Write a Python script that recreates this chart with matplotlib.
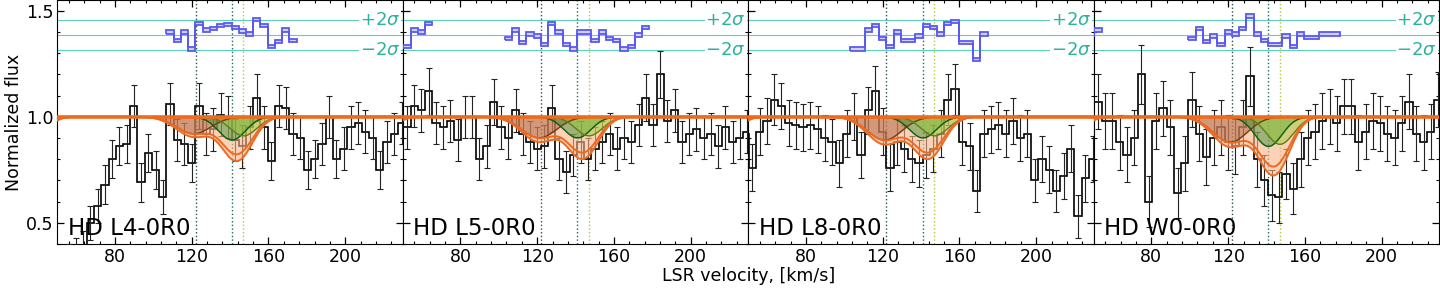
import numpy as np
import matplotlib.pyplot as plt
import matplotlib.transforms as mtransforms

# velocity grid of the binned spectra (bin centres, km/s)
vel = np.arange(48.4, 230.5, 3.77)
edges = np.append(vel - 3.77 / 2, vel[-1] + 3.77 / 2)

panel_names = ['HD L4-0R0', 'HD L5-0R0', 'HD L8-0R0', 'HD W0-0R0']

flux_l4 = [0.30, 0.30, 0.32, 0.35, 0.38, 0.50, 0.58, 0.68, 0.80, 0.86, 0.87, 1.05, 0.69, 0.83, 0.75,
           0.62, 1.06, 0.89, 0.87, 0.78, 1.05, 0.92, 0.94, 1.01, 1.00, 0.89, 0.86, 0.95, 1.09, 0.95,
           0.79, 1.05, 1.04, 0.92, 0.90, 0.75, 0.80, 0.87, 1.00, 0.80, 0.85, 0.95, 0.97, 0.93, 0.90,
           0.75, 0.88, 0.92, 0.97]
err_l4 = [0.08, 0.08, 0.08, 0.08, 0.08, 0.08, 0.08, 0.09, 0.09, 0.09, 0.09, 0.10, 0.09, 0.09, 0.09,
          0.08, 0.10, 0.10, 0.10, 0.09, 0.11, 0.10, 0.10, 0.10, 0.10, 0.10, 0.10, 0.10, 0.11, 0.10,
          0.09, 0.10, 0.10, 0.10, 0.10, 0.09, 0.09, 0.10, 0.10, 0.09, 0.10, 0.10, 0.10, 0.10, 0.10,
          0.09, 0.10, 0.10, 0.10]
flux_l5 = [0.85, 0.95, 1.05, 1.03, 1.12, 0.97, 0.95, 0.98, 0.89, 1.00, 1.00, 0.80, 0.86, 1.07, 0.95,
           0.90, 1.03, 0.92, 0.88, 0.85, 0.86, 1.04, 0.80, 0.74, 0.82, 0.88, 0.80, 0.85, 0.88, 0.92,
           0.85, 0.90, 0.88, 0.96, 1.09, 0.96, 1.20, 0.98, 1.03, 0.88, 0.92, 0.94, 0.90, 0.92, 0.86,
           0.95, 0.88, 0.90, 0.93]
err_l5 = [0.10, 0.10, 0.10, 0.10, 0.11, 0.10, 0.10, 0.10, 0.10, 0.10, 0.10, 0.10, 0.10, 0.11, 0.10,
          0.10, 0.10, 0.10, 0.10, 0.10, 0.10, 0.11, 0.10, 0.10, 0.10, 0.10, 0.10, 0.10, 0.10, 0.10,
          0.10, 0.10, 0.10, 0.10, 0.11, 0.10, 0.11, 0.10, 0.10, 0.10, 0.10, 0.10, 0.10, 0.10, 0.10,
          0.10, 0.10, 0.10, 0.10]
flux_l8 = [0.92, 0.76, 0.93, 0.98, 1.08, 1.05, 0.97, 0.96, 0.95, 0.96, 0.94, 0.90, 0.88, 0.78, 0.92,
           1.00, 0.82, 1.03, 1.12, 0.93, 0.76, 0.88, 0.85, 0.80, 0.78, 0.82, 0.85, 0.92, 1.08, 1.13,
           0.88, 0.86, 0.65, 0.92, 0.94, 0.96, 0.92, 0.98, 0.90, 0.92, 0.70, 0.80, 0.75, 0.65, 0.72,
           0.85, 0.53, 0.71, 0.80]
err_l8 = [0.11, 0.11, 0.11, 0.11, 0.12, 0.11, 0.11, 0.11, 0.11, 0.11, 0.11, 0.11, 0.11, 0.11, 0.11,
          0.11, 0.11, 0.11, 0.12, 0.11, 0.11, 0.11, 0.11, 0.11, 0.11, 0.11, 0.11, 0.11, 0.12, 0.12,
          0.11, 0.11, 0.10, 0.11, 0.11, 0.11, 0.11, 0.11, 0.11, 0.11, 0.10, 0.11, 0.11, 0.10, 0.11,
          0.11, 0.10, 0.11, 0.11]
flux_w0 = [0.95, 1.07, 0.98, 0.98, 0.88, 0.82, 0.90, 1.20, 0.60, 0.98, 1.04, 0.95, 0.64, 0.78, 1.08,
           0.92, 0.81, 0.90, 0.95, 0.88, 0.86, 0.95, 1.19, 0.80, 0.70, 0.63, 0.62, 0.73, 0.66, 0.80,
           0.90, 0.93, 0.98, 1.00, 0.97, 1.05, 1.05, 0.88, 0.93, 0.98, 0.97, 0.92, 0.90, 0.97, 1.07,
           0.92, 0.88, 0.93, 1.08]
err_w0 = [0.13, 0.13, 0.13, 0.13, 0.13, 0.13, 0.13, 0.14, 0.12, 0.13, 0.13, 0.13, 0.12, 0.13, 0.13,
          0.13, 0.13, 0.13, 0.13, 0.13, 0.13, 0.13, 0.14, 0.13, 0.12, 0.12, 0.12, 0.12, 0.12, 0.13,
          0.13, 0.13, 0.13, 0.13, 0.13, 0.13, 0.13, 0.13, 0.13, 0.13, 0.13, 0.13, 0.13, 0.13, 0.13,
          0.13, 0.13, 0.13, 0.13]

# residual strips (first bin index, values already in plot units)
resid_l4 = (16, [1.40, 1.36, 1.40, 1.32, 1.44, 1.41, 1.415, 1.43, 1.435, 1.42, 1.405, 1.39, 1.46,
                 1.43, 1.33, 1.355, 1.41, 1.36])
resid_l5 = (15, [1.37, 1.41, 1.35, 1.39, 1.38, 1.34, 1.44, 1.40, 1.34, 1.32, 1.40, 1.40, 1.36, 1.40,
                 1.37, 1.36, 1.32, 1.33, 1.385, 1.42])
resid_l5_left = (1, [1.33, 1.41, 1.40, 1.44])
resid_l8 = (15, [1.32, 1.32, 1.41, 1.43, 1.37, 1.33, 1.40, 1.36, 1.36, 1.38, 1.43, 1.42, 1.39, 1.44,
                 1.45, 1.35, 1.35, 1.27, 1.39])
resid_w0 = (14, [1.37, 1.415, 1.355, 1.38, 1.34, 1.40, 1.39, 1.415, 1.475, 1.39, 1.36, 1.34, 1.34,
                 1.38, 1.33, 1.39, 1.375, 1.375, 1.39, 1.39, 1.39])
resid_w0_left = (0, [1.39, 1.41])

# absorption components: centre, depth, width (km/s)
comp_center = [121, 141, 147]
depth_l4 = [0.08, 0.11, 0.09]
depth_l5 = [0.10, 0.10, 0.09]
depth_l8 = [0.11, 0.10, 0.09]
depth_w0 = [0.12, 0.14, 0.13]
comp_width = [9, 7, 7]
edge_comp = (40, 0.06, 6)   # wing of a line outside the window

resid_mid = 1.387
resid_sig = 0.07
v_marks = [122, 141, 147]
v_mark_colors = ['#2f4f4f', '#1b6b5a', '#b8c43a']

panels = [
    (flux_l4, err_l4, [resid_l4], depth_l4),
    (flux_l5, err_l5, [resid_l5, resid_l5_left], depth_l5),
    (flux_l8, err_l8, [resid_l8], depth_l8),
    (flux_w0, err_w0, [resid_w0, resid_w0_left], depth_w0),
]

comp_fill = ['#a0522d', '#2e8b2e', '#9acd32']
comp_line = ['#7a3b12', '#0b5d0b', '#5f7f1a']

fig, axes = plt.subplots(1, 4, figsize=(14.4, 2.88), dpi=100, sharey=True)
fig.subplots_adjust(left=0.0398, right=0.9995, bottom=0.153, top=0.9995, wspace=0)

vf = np.linspace(50, 230, 721)

for ax, name, (flux, err, resids, depths) in zip(axes, panel_names, panels):
    flux = np.array(flux)
    err = np.array(err)

    # sigma lines
    for y in (resid_mid - resid_sig, resid_mid, resid_mid + resid_sig):
        ax.axhline(y, color='#5fcfc0', lw=0.8, zorder=1)
    tr = mtransforms.blended_transform_factory(ax.transAxes, ax.transData)
    for lab, y in ((r'$+2\sigma$', resid_mid + resid_sig), (r'$-2\sigma$', resid_mid - resid_sig)):
        ax.text(0.993, y, lab, transform=tr, ha='right', va='center', fontsize=13,
                color='#2bb39e', zorder=3,
                bbox=dict(facecolor='white', edgecolor='none', pad=0.5))

    # velocity markers
    for vm, c in zip(v_marks, v_mark_colors):
        ax.axvline(vm, color=c, lw=1.0, ls=':', zorder=2)

    # data
    ax.stairs(flux, edges, color='black', lw=1.2, zorder=4)
    ax.errorbar(vel, flux, yerr=err, fmt='none', ecolor='#222222', elinewidth=0.8,
                capsize=2, capthick=0.8, zorder=4)

    # residuals
    for k0, rv in resids:
        rv = np.array(rv)
        e = edges[k0:k0 + len(rv) + 1]
        ax.stairs(rv + 0.008, e, baseline=rv - 0.008, fill=True,
                  facecolor='#d0d0fb', edgecolor='#5a5af0', lw=1.3, zorder=4)

    # model: total profile (peach) with the components on top of it
    profiles = []
    for c, d, w in zip(comp_center, depths, comp_width):
        profiles.append(1 - d * np.exp(-0.5 * ((vf - c) / w) ** 2))
    wing = 1 - edge_comp[1] * np.exp(-0.5 * ((vf - edge_comp[0]) / edge_comp[2]) ** 2)
    total = np.prod(profiles, axis=0) * wing
    lo = total - 0.18 * (1 - total)
    ax.fill_between(vf, lo, 1, color='#f9b58a', alpha=0.6, lw=0, zorder=5)
    for p, fc, lc in zip(profiles, comp_fill, comp_line):
        ax.fill_between(vf, p, 1, color=fc, alpha=0.45, lw=0, zorder=5)
        ax.plot(vf, p, color=lc, lw=1.0, zorder=6)
    ax.plot(vf, lo, color='#ec6a22', lw=1.4, zorder=7)
    ax.plot(vf, total, color='#ec6a22', lw=1.4, zorder=7)
    ax.axhline(1.0, color='#ee6a1d', lw=2.6, zorder=7)

    ax.text(0.03, 0.035, name, transform=ax.transAxes, fontsize=16.5, va='baseline', zorder=8)

    ax.set_xlim(50, 230)
    ax.set_ylim(0.4, 1.55)
    ax.set_xticks([80, 120, 160, 200])
    ax.set_xticks(np.arange(56, 230, 8), minor=True)
    ax.set_yticks([0.5, 1.0, 1.5])
    ax.set_yticks(np.arange(0.4, 1.56, 0.1), minor=True)
    ax.tick_params(which='both', direction='in', top=True, right=True, labelsize=12.5, pad=3)
    ax.tick_params(which='major', length=5, width=0.9)
    ax.tick_params(which='minor', length=2.5, width=0.8)

axes[0].set_ylabel('Normalized flux', fontsize=12.5, labelpad=2)
fig.text(0.5196, 0.025, 'LSR velocity, [km/s]', ha='center', va='baseline', fontsize=12.5)

fig.savefig('out.png', dpi=100)
